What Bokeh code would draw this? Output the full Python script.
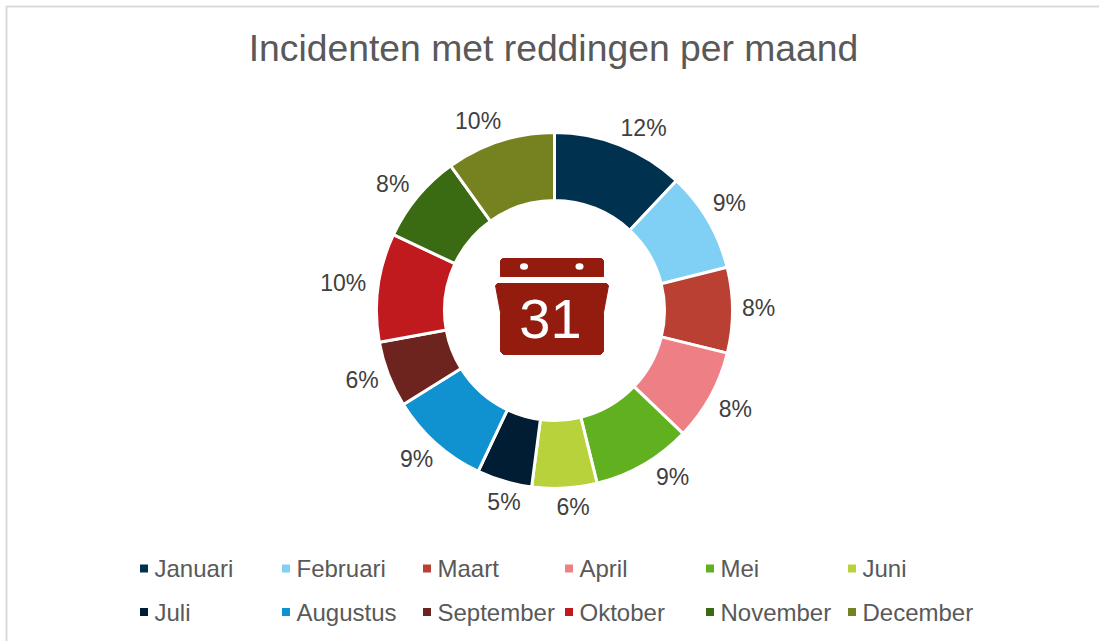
from math import cos, sin, pi
from bokeh.plotting import figure
from bokeh.embed import file_html
from bokeh.resources import INLINE
from bokeh.core.properties import value

TITLE = "Incidenten met reddingen per maand"
months = ["Januari", "Februari", "Maart", "April", "Mei", "Juni",
          "Juli", "Augustus", "September", "Oktober", "November", "December"]
shares = [12.0, 9.1, 7.75, 8.3, 9.0, 5.9, 5.0, 9.1, 6.0, 9.85, 8.1, 9.9]
labels = ["12%", "9%", "8%", "8%", "9%", "6%", "5%", "9%", "6%", "10%", "8%", "10%"]
colors = ["#00324F", "#80D0F5", "#B94032", "#EE8085", "#60B020", "#B8D23C",
          "#001D33", "#1092D0", "#6E241E", "#C01A1F", "#3A6A12", "#76821F"]

W, H = 1099, 641
FONT = value("Liberation Sans")
Y = lambda py: H - py

p = figure(width=W, height=H, x_range=(0, W), y_range=(0, H), tools="",
           toolbar_location=None, output_backend="svg", min_border=0,
           outline_line_color=None, background_fill_color="white",
           border_fill_color="white", margin=(0, 0, 0, 0))
p.axis.visible = False
p.grid.visible = False

# chart frame
p.line([6, 6, W], [0, Y(6), Y(6)], line_color="#D9D9D9", line_width=2)

p.text([553], [Y(47)], text=[TITLE], text_font=FONT, text_font_size="37.3px",
       text_color="#595959", text_align="center", text_baseline="middle")

# doughnut
cx, cy = 554, Y(310)
total = sum(shares)
starts, ends, acc = [], [], 0.0
for v in shares:
    starts.append(pi / 2 - 2 * pi * (acc + v) / total)
    ends.append(pi / 2 - 2 * pi * acc / total)
    acc += v
p.annular_wedge([cx] * 12, [cy] * 12, inner_radius=110, outer_radius=178,
                start_angle=starts, end_angle=ends, fill_color=colors,
                line_color="white", line_width=3)

# data labels: radial placement plus per-label nudges in pixels (right, down)
nudge = [(14, 7), (-1, -4), (0, -2), (2, 0), (16, -10), (7, -7),
         (7, -4), (-2, -4), (-2, -4), (-9, -1), (-5, 4), (-14, 5)]
mids = [(a + b) / 2 for a, b in zip(starts, ends)]
p.text([cx + 204 * cos(m) + n[0] for m, n in zip(mids, nudge)],
       [cy + 204 * sin(m) - n[1] for m, n in zip(mids, nudge)],
       text=labels, text_font=FONT, text_font_size="23px", text_color="#404040",
       text_align="center", text_baseline="middle")

# calendar icon
ICON = "#941C0E"
def pts(seq):
    return [a for a, _ in seq], [Y(b) for _, b in seq]
top = [(502, 258), (601, 258), (603, 260), (603, 276), (500, 276), (500, 260)]
body = [(497, 283), (606, 283), (608, 285), (603, 312), (603, 351), (600, 354),
        (503, 354), (500, 351), (500, 312), (495, 285)]
for shape in (top, body):
    xs, ys = pts(shape)
    p.patch(xs, ys, fill_color=ICON, line_color=ICON, line_width=1)
p.ellipse([523.5, 579], [Y(266), Y(266)], width=8, height=6.5,
          fill_color="white", line_color=None)
p.text([550], [Y(318)], text=["31"], text_font=FONT, text_font_size="56px",
       text_color="white", text_align="center", text_baseline="middle")

# legend
col_x = [143.5, 285.5, 426.5, 568.5, 709.5, 851.5]
row_y = [568, 611.5]
lx, ly = [], []
for i in range(12):
    lx.append(col_x[i % 6])
    ly.append(Y(row_y[i // 6]))
p.rect(lx, ly, width=8, height=8, fill_color=colors, line_color=None)
p.text([x + 10.5 for x in lx], ly, text=months, text_font=FONT, text_font_size="24px",
       text_color="#595959", text_align="left", text_baseline="middle")

open("out.html", "w").write(file_html(p, INLINE))
